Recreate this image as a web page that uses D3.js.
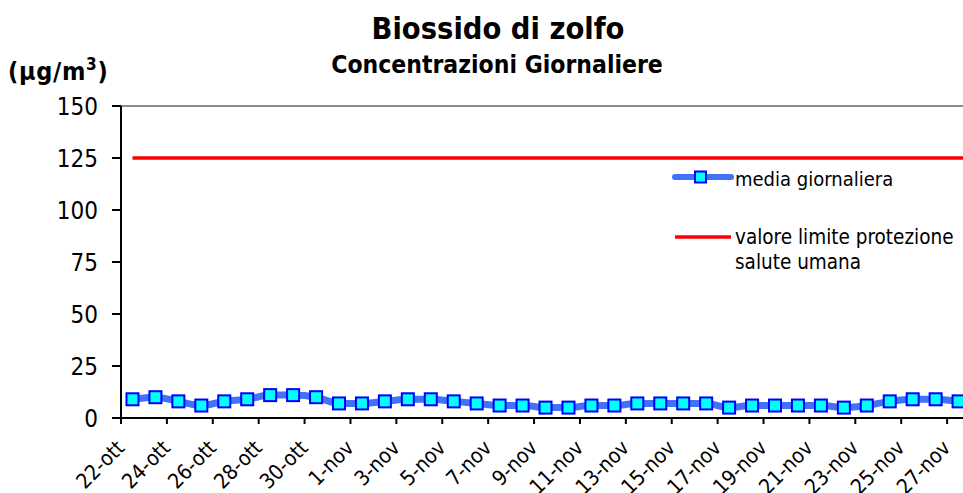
<!DOCTYPE html>
<html>
<head>
<meta charset="utf-8">
<script src="https://cdn.jsdelivr.net/npm/d3@7"></script>
<style>
  body { margin: 0; background: #fff; }
  svg { display: block; font-family: "DejaVu Sans Condensed", "DejaVu Sans", sans-serif; }
</style>
</head>
<body>
<svg id="chart" width="963" height="493"></svg>
<script>
// daily SO2 averages, 22 Oct - 28 Nov
const days = [
  "22-ott", "23-ott", "24-ott", "25-ott", "26-ott", "27-ott", "28-ott", "29-ott", "30-ott", "31-ott",
  "1-nov", "2-nov", "3-nov", "4-nov", "5-nov", "6-nov", "7-nov", "8-nov", "9-nov", "10-nov",
  "11-nov", "12-nov", "13-nov", "14-nov", "15-nov", "16-nov", "17-nov", "18-nov", "19-nov", "20-nov",
  "21-nov", "22-nov", "23-nov", "24-nov", "25-nov", "26-nov", "27-nov", "28-nov"
];
const mediaGiornaliera = [
  9, 10, 8, 6, 8, 9, 11, 11, 10, 7,
  7, 8, 9, 9, 8, 7, 6, 6, 5, 5,
  6, 6, 7, 7, 7, 7, 5, 6, 6, 6,
  6, 5, 6, 8, 9, 9, 8, 7
];
const valoreLimite = 125;
const yTicks = [0, 25, 50, 75, 100, 125, 150];

const svg = d3.select("#chart");

// plot area runs past the right edge of the picture, like the original crop
const plotLeft = 121, plotRight = 993, plotTop = 106, plotBottom = 418;

const x = d3.scaleBand().domain(days).range([plotLeft, plotRight]);
const y = d3.scaleLinear().domain([0, 150]).range([plotBottom, plotTop]);
const cx = d => x(d) + x.bandwidth() / 2;

// top border at 150
svg.append("line")
  .attr("x1", plotLeft).attr("x2", plotRight)
  .attr("y1", y(150)).attr("y2", y(150))
  .attr("stroke", "#8c8c8c").attr("stroke-width", 2);

// y axis
const yAxis = svg.append("g");
yAxis.append("line")
  .attr("x1", plotLeft).attr("x2", plotLeft)
  .attr("y1", plotTop).attr("y2", plotBottom)
  .attr("stroke", "#000").attr("stroke-width", 2);
yAxis.selectAll(".ytick")
  .data(yTicks)
  .enter()
  .append("line")
  .attr("x1", plotLeft - 9).attr("x2", plotLeft)
  .attr("y1", d => y(d)).attr("y2", d => y(d))
  .attr("stroke", "#000").attr("stroke-width", 2);
yAxis.selectAll(".ylabel")
  .data(yTicks)
  .enter()
  .append("text")
  .attr("x", 98)
  .attr("y", d => y(d))
  .attr("dy", "0.36em")
  .attr("text-anchor", "end")
  .attr("font-size", "24px")
  .attr("fill", "#000")
  .text(d => d);

// x axis
const xAxis = svg.append("g");
xAxis.append("line")
  .attr("x1", plotLeft - 9).attr("x2", plotRight)
  .attr("y1", plotBottom).attr("y2", plotBottom)
  .attr("stroke", "#000").attr("stroke-width", 2);
const every2 = days.filter((d, i) => i % 2 === 0);
xAxis.selectAll(".xtick")
  .data(every2)
  .enter()
  .append("line")
  .attr("x1", d => x(d)).attr("x2", d => x(d))
  .attr("y1", plotBottom).attr("y2", plotBottom + 6)
  .attr("stroke", "#000").attr("stroke-width", 2);
xAxis.selectAll(".xlabel")
  .data(every2)
  .enter()
  .append("text")
  .attr("transform", d => `translate(${cx(d) - 12},${plotBottom + 26}) rotate(-45)`)
  .attr("dy", "0.35em")
  .attr("text-anchor", "end")
  .attr("font-size", "21px")
  .attr("fill", "#000")
  .text(d => d);

// limit line
svg.append("line")
  .attr("x1", cx(days[0])).attr("x2", cx(days[days.length - 1]))
  .attr("y1", y(valoreLimite)).attr("y2", y(valoreLimite))
  .attr("stroke", "#ff0000").attr("stroke-width", 3.5);

// daily mean line
const line = d3.line()
  .x((d, i) => cx(days[i]))
  .y(d => y(d))
  .curve(d3.curveMonotoneX);
svg.append("path")
  .datum(mediaGiornaliera)
  .attr("d", line)
  .attr("fill", "none")
  .attr("stroke", "#4272f7")
  .attr("stroke-width", 7)
  .attr("stroke-linejoin", "round");

svg.selectAll(".marker")
  .data(mediaGiornaliera)
  .enter()
  .append("rect")
  .attr("class", "marker")
  .attr("x", (d, i) => cx(days[i]) - 6)
  .attr("y", d => y(d) - 6)
  .attr("width", 12).attr("height", 12)
  .attr("fill", "#00ffff")
  .attr("stroke", "#0000ff")
  .attr("stroke-width", 2);

// titles
svg.append("text")
  .attr("x", 498).attr("y", 39)
  .attr("text-anchor", "middle")
  .attr("font-size", "30.5px").attr("font-weight", "bold")
  .text("Biossido di zolfo");
svg.append("text")
  .attr("x", 497).attr("y", 73)
  .attr("text-anchor", "middle")
  .attr("font-size", "24.5px").attr("font-weight", "bold")
  .text("Concentrazioni Giornaliere");

const unit = svg.append("text")
  .attr("x", 8).attr("y", 80)
  .attr("font-size", "25px").attr("font-weight", "bold")
  .attr("letter-spacing", "0.7px");
unit.append("tspan").text("(\u00b5g/m");
unit.append("tspan").attr("dy", -10).attr("font-size", "17px").text("3");
unit.append("tspan").attr("dy", 10).text(")");

// legend
const legend = svg.append("g");
legend.append("line")
  .attr("x1", 675).attr("x2", 731)
  .attr("y1", 177).attr("y2", 177)
  .attr("stroke", "#4272f7").attr("stroke-width", 6)
  .attr("stroke-linecap", "round");
legend.append("rect")
  .attr("x", 695).attr("y", 171.5)
  .attr("width", 11).attr("height", 11)
  .attr("fill", "#00ffff").attr("stroke", "#0000ff").attr("stroke-width", 2);
legend.append("text")
  .attr("x", 735).attr("y", 186)
  .attr("font-size", "20px")
  .text("media giornaliera");

legend.append("line")
  .attr("x1", 675).attr("x2", 731)
  .attr("y1", 237).attr("y2", 237)
  .attr("stroke", "#ff0000").attr("stroke-width", 3.5);
legend.append("text")
  .attr("x", 735).attr("y", 244)
  .attr("font-size", "20.5px")
  .text("valore limite protezione");
legend.append("text")
  .attr("x", 735).attr("y", 269)
  .attr("font-size", "20.5px")
  .text("salute umana");
</script>
</body>
</html>
